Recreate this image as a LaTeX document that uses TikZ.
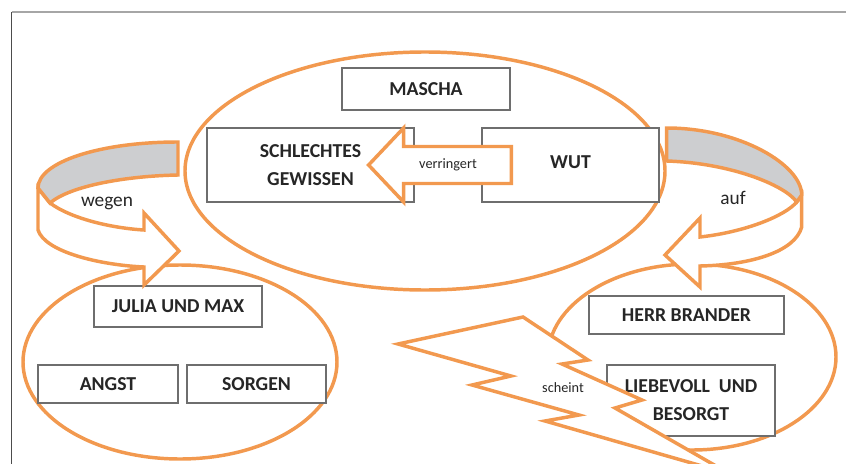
\documentclass[tikz,border=0pt]{standalone}
\usepackage{fontspec}
\setmainfont{Carlito}
\usetikzlibrary{calc}
\definecolor{mapor}{HTML}{F2994F}
\definecolor{mapgrey}{HTML}{6E6E6E}
\definecolor{mapband}{HTML}{CDCED0}
\definecolor{maptext}{HTML}{262626}

\begin{document}
\begin{tikzpicture}[
  x=0.75pt, y=-0.75pt,
  cbox/.style={draw=mapgrey, line width=0.9pt, fill=white, align=center, inner sep=0pt,
    font=\fontsize{14.8}{21}\selectfont\bfseries, text=maptext},
  ring/.style={draw=mapor, line width=2.6pt},
  blockarrow/.style={draw=mapor, line width=2.6pt, fill=white},
  lbl/.style={font=\fontsize{14.5}{17}\selectfont, text=maptext},
  slbl/.style={font=\fontsize{10.7}{13}\selectfont, text=maptext},
]
\useasboundingbox (0,0) rectangle (846,464);
\clip (0,0) rectangle (846,464);

% page frame (top and left edge only)
\draw[black!35, line width=1.1pt] (11.5,12) -- (846,12);
\draw[black!70, line width=0.75pt] (11.5,12) -- (11.5,464);

% ============ the three groups ============
\draw[ring] (425,171) ellipse [x radius=180pt, y radius=89.25pt];
\draw[ring] (180,362) ellipse [x radius=117.75pt, y radius=72.75pt];
\draw[ring] (692,357) ellipse [x radius=108pt, y radius=69.75pt];

% ============ boxes ============
\node[cbox, minimum width=126pt, minimum height=31.5pt] (mascha) at (426,89) {MASCHA};
\node[cbox, minimum width=155.25pt, minimum height=55.5pt] (gewissen) at (310.5,165) {SCHLECHTES\\GEWISSEN};
\node[cbox, minimum width=132.75pt, minimum height=55.5pt] (wut) at (570.5,165) {\raisebox{5pt}{WUT}};
\node[cbox, minimum width=126pt, minimum height=30.75pt] (julia) at (178,306.5) {JULIA UND MAX};
\node[cbox, minimum width=105pt, minimum height=28.5pt] (angst) at (108,384) {ANGST};
\node[cbox, minimum width=104.25pt, minimum height=28.5pt] (sorgen) at (256.5,384) {SORGEN};
\node[cbox, minimum width=146.25pt, minimum height=28.5pt] (herr) at (686.5,315) {HERR BRANDER};
\node[cbox, minimum width=126pt, minimum height=53.25pt] (liebe) at (691,400.5) {LIEBEVOLL\ \ UND\\BESORGT};

% ============ block arrow: WUT -> SCHLECHTES GEWISSEN ============
\coordinate (vtip) at ($(gewissen.east)+(-46,0)$);
\coordinate (vend) at ($(wut.west)+(30,0)$);
\draw[blockarrow] (vtip) -- ($(vtip)+(35,-37)$) -- ($(vtip)+(35,-18.5)$) -- ($(vend)+(0,-18.5)$)
  -- ($(vend)+(0,18.5)$) -- ($(vtip)+(35,18.5)$) -- ($(vtip)+(35,37)$) -- cycle;
\node[slbl] (verr) at ($(vtip)!0.556!(vend)$) {verringert};

% ============ curved arrow left (wegen) ============
\draw[blockarrow] (38,188) -- (38,230)
  .. controls (45,252) and (100,265) .. (144,267) -- (144,285) -- (179,251)
  -- (144,213) -- (144,230) .. controls (110,228) and (70,218) .. (50,203) -- cycle;
\draw[blockarrow, fill=mapband] (178,142) .. controls (100,142) and (38,162) .. (38,188)
  -- (50,203) .. controls (70,186) and (125,176) .. (178,175) -- cycle;
\node[lbl] (wegen) at (107,203) {wegen};

% ============ curved arrow right (auf) ============
\draw[blockarrow] (801.7,195) -- (801.7,227)
  .. controls (795,252) and (750,265) .. (700,266) -- (700,287) -- (665,255)
  -- (700,218) -- (700,237) .. controls (745,232) and (785,216) .. (796.7,202) -- cycle;
\draw[blockarrow, fill=mapband] (666.7,128) .. controls (740,128) and (801.7,165) .. (801.7,195)
  -- (796.7,202) .. controls (785,185) and (730,163) .. (666.7,161) -- cycle;
\node[lbl] (auf) at (733,198) {auf};

% ============ lightning (scheint) ============
\draw[blockarrow] (398,344) -- (523,317) -- (588,360) -- (562,364) -- (642,400) -- (615,408)
  -- (730,474) -- (545,421) -- (579,415) -- (472,385) -- (511,376) -- cycle;
\node[slbl] (scheint) at (563,388) {scheint};

\end{tikzpicture}
\end{document}
